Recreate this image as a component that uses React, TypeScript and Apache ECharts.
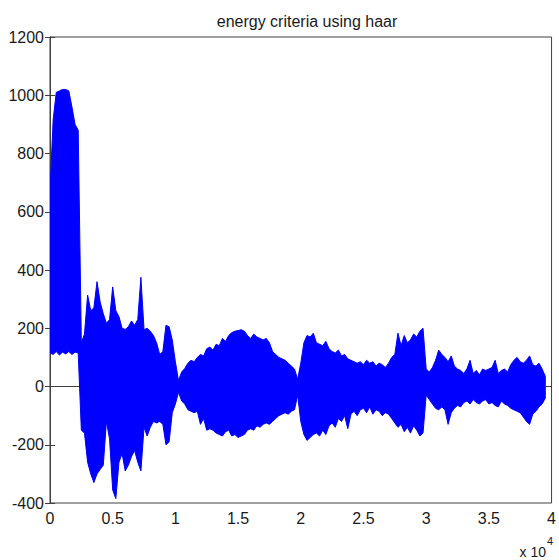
import React, { useEffect, useRef } from "react";
import * as echarts from "echarts";

// Signal envelope, one bin every 250 samples
const BIN = 250;
const upper: number[] = [
  670, 915, 1010, 1015, 1020, 1020, 1015, 960, 900, 880,
  150, 180, 314, 260, 270, 360, 290, 250, 217, 230,
  342, 260, 240, 200, 196, 205, 225, 210, 230, 375,
  195, 200, 190, 175, 150, 110, 120, 210, 205, 160,
  85, 20, 50, 62, 80, 90, 85, 100, 110, 105,
  130, 135, 125, 145, 140, 165, 155, 175, 185, 190,
  192, 195, 190, 175, 165, 180, 170, 165, 160, 165,
  150, 120, 110, 100, 95, 90, 80, 70, 60, 25,
  80, 150, 175, 170, 183, 150, 145, 140, 155, 130,
  120, 115, 125, 105, 110, 95, 90, 85, 80, 85,
  75, 90, 80, 85, 70, 80, 75, 65, 80, 100,
  110, 183, 140, 175, 150, 160, 180, 170, 190, 200,
  60, 50, 65, 90, 125, 110, 100, 85, 105, 70,
  60, 55, 45, 60, 90, 45, 55, 40, 60, 55,
  60, 65, 90, 45, 55, 60, 50, 75, 90, 100,
  85, 80, 90, 105, 75, 70, 80, 60, 35,
];
const lower: number[] = [
  115, 110, 120, 108, 118, 112, 120, 110, 118, 115,
  -150, -160, -260, -300, -330, -300, -285, -270, -120, -180,
  -355, -385, -260, -230, -290, -270, -240, -220, -260, -290,
  -140, -170, -140, -120, -125, -120, -130, -200, -190, -90,
  -60, -20, -50, -60, -80, -85, -90, -85, -130, -110,
  -150, -145, -150, -160, -165, -170, -155, -150, -170, -165,
  -175, -170, -165, -150, -145, -150, -135, -140, -130, -125,
  -130, -120, -110, -100, -95, -90, -95, -85, -80, -30,
  -120, -165, -185, -175, -165, -160, -170, -150, -165, -135,
  -125, -140, -110, -120, -100, -145, -95, -85, -100, -80,
  -75, -90, -70, -95, -80, -85, -100, -90, -95, -110,
  -125, -140, -130, -155, -140, -160, -135, -150, -170, -160,
  -30, -45, -60, -75, -80, -70, -80, -130, -90, -75,
  -65, -70, -55, -50, -60, -45, -55, -60, -50, -45,
  -60, -55, -65, -70, -50, -60, -65, -75, -80, -85,
  -90, -105, -120, -130, -95, -85, -70, -60, -40,
];
const xTicks = [0, 5000, 10000, 15000, 20000, 25000, 30000, 35000, 40000];
const yTicks = [-400, -200, 0, 200, 400, 600, 800, 1000, 1200];
const titleText = "energy criteria using haar";
const xScaleText = "x 10";
const xScaleExp = "4";

const FONT = "'Liberation Sans', Arial, Helvetica, sans-serif";
const INK = "#1a1a1a";
const AXIS = "#404040";
const BLUE = "#0000ff";

export default function App() {
  const ref = useRef<HTMLDivElement>(null);
  useEffect(() => {
    if (!ref.current) return;
    const chart = echarts.init(ref.current, null, { renderer: "svg" });
    const envData = upper.map((v, i) => [i * BIN, v, lower[i]]);
    const xMin = xTicks[0];
    const xMax = xTicks[xTicks.length - 1];
    const xInt = xTicks[1] - xTicks[0];
    const yMin = yTicks[0];
    const yMax = yTicks[yTicks.length - 1];
    const yInt = yTicks[1] - yTicks[0];
    const tick = { show: true, inside: true, length: 5, lineStyle: { color: AXIS, width: 1 } };
    chart.setOption({
      animation: false,
      backgroundColor: "#ffffff",
      title: {
        text: titleText,
        left: 302,
        top: 8,
        textAlign: "center",
        textStyle: { fontFamily: FONT, fontSize: 16, fontWeight: "normal", color: INK },
      },
      grid: {
        left: 50,
        right: 6,
        top: 37,
        bottom: 57,
        show: true,
        borderColor: AXIS,
        borderWidth: 1,
        backgroundColor: "#ffffff",
      },
      xAxis: [
        {
          type: "value",
          min: xMin,
          max: xMax,
          interval: xInt,
          position: "bottom",
          axisLine: { show: true, lineStyle: { color: AXIS } },
          axisTick: tick,
          splitLine: { show: false },
          axisLabel: {
            margin: 7,
            fontFamily: FONT,
            fontSize: 16,
            color: INK,
            formatter: (v: number) => String(v / 10000),
          },
        },
        {
          type: "value",
          min: xMin,
          max: xMax,
          interval: xInt,
          position: "top",
          axisLine: { show: true, lineStyle: { color: AXIS } },
          axisTick: tick,
          splitLine: { show: false },
          axisLabel: { show: false },
        },
      ],
      yAxis: [
        {
          type: "value",
          min: yMin,
          max: yMax,
          interval: yInt,
          position: "left",
          axisLine: { show: true, lineStyle: { color: AXIS } },
          axisTick: tick,
          splitLine: { show: false },
          axisLabel: {
            margin: 6,
            fontFamily: FONT,
            fontSize: 16,
            color: INK,
            formatter: (v: number) => String(v),
          },
        },
        {
          type: "value",
          min: yMin,
          max: yMax,
          interval: yInt,
          position: "right",
          axisLine: { show: true, lineStyle: { color: AXIS } },
          axisTick: tick,
          splitLine: { show: false },
          axisLabel: { show: false },
        },
      ],
      series: [
        {
          type: "custom",
          name: "signal",
          xAxisIndex: 0,
          yAxisIndex: 0,
          data: envData,
          encode: { x: 0, y: [1, 2] },
          silent: true,
          clip: true,
          renderItem: (params: any, api: any) => {
            if (params.dataIndex !== 0) return null;
            const pts: number[][] = [];
            for (let i = 0; i < envData.length; i++) {
              pts.push(api.coord([envData[i][0], envData[i][1]]));
            }
            for (let i = envData.length - 1; i >= 0; i--) {
              pts.push(api.coord([envData[i][0], envData[i][2]]));
            }
            return {
              type: "polygon",
              shape: { points: pts },
              style: { fill: BLUE, stroke: BLUE, lineWidth: 1 },
            };
          },
        },
      ],
      graphic: [
        {
          type: "text",
          style: {
            text: xScaleText,
            x: 546,
            y: 559,
            align: "right",
            verticalAlign: "bottom",
            font: `14px ${FONT}`,
            fill: INK,
          },
        },
        {
          type: "text",
          style: {
            text: xScaleExp,
            x: 547,
            y: 535,
            align: "left",
            verticalAlign: "top",
            font: `11px ${FONT}`,
            fill: INK,
          },
        },
      ],
    });
    return () => chart.dispose();
  }, []);
  return (
    <div
      ref={ref}
      style={{ position: "fixed", left: 0, top: 0, width: 559, height: 560, background: "#fff" }}
    />
  );
}
